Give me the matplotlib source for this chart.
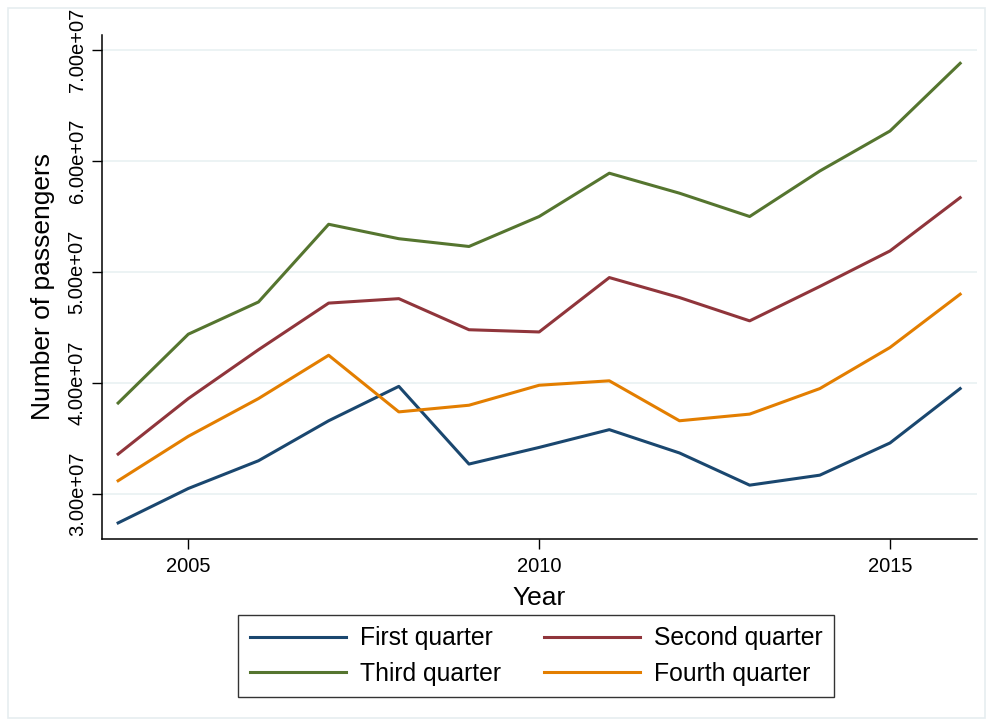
import matplotlib
matplotlib.use("Agg")
import matplotlib.pyplot as plt
from matplotlib.patches import Rectangle
from matplotlib.ticker import FuncFormatter

years = list(range(2004, 2017))
first_q = [2.74e7, 3.05e7, 3.30e7, 3.66e7, 3.97e7, 3.27e7, 3.42e7, 3.58e7, 3.37e7, 3.08e7, 3.17e7, 3.46e7, 3.95e7]
second_q = [3.36e7, 3.86e7, 4.30e7, 4.72e7, 4.76e7, 4.48e7, 4.46e7, 4.95e7, 4.77e7, 4.56e7, 4.87e7, 5.19e7, 5.67e7]
third_q = [3.82e7, 4.44e7, 4.73e7, 5.43e7, 5.30e7, 5.23e7, 5.50e7, 5.89e7, 5.71e7, 5.50e7, 5.91e7, 6.27e7, 6.88e7]
fourth_q = [3.12e7, 3.52e7, 3.86e7, 4.25e7, 3.74e7, 3.80e7, 3.98e7, 4.02e7, 3.66e7, 3.72e7, 3.95e7, 4.32e7, 4.80e7]
labels = ["First quarter", "Second quarter", "Third quarter", "Fourth quarter"]
colors = ["#1a476f", "#90353b", "#55752f", "#e37e00"]
yticks = [3e7, 4e7, 5e7, 6e7, 7e7]
xticks = [2005, 2010, 2015]

plt.rcParams['font.family'] = ['Liberation Sans', 'DejaVu Sans']

W, H = 993, 727
fig = plt.figure(figsize=(W/100, H/100), dpi=100)
fig.patches.append(Rectangle((8/W, 1 - 718/H), (985-8)/W, (718-8)/H, transform=fig.transFigure,
                             fill=False, edgecolor="#e6edf0", linewidth=1.2))
ax = fig.add_axes([102/W, 1 - 539/H, (977-102)/W, (539-35)/H])

handles = []
for s, lab, c in zip([first_q, second_q, third_q, fourth_q], labels, colors):
    h, = ax.plot(years, s, color=c, linewidth=2.2, label=lab)
    handles.append(h)

ax.set_xlim(2003.77, 2016.24)
ax.set_ylim(2.595e7, 7.135e7)
ax.set_xticks(xticks)
ax.set_yticks(yticks)
ax.yaxis.set_major_formatter(FuncFormatter(lambda v, p: "%.2fe+%02d" % (v/1e7, 7)))
for lbl in ax.get_yticklabels():
    lbl.set_rotation(90)
    lbl.set_va("center")
ax.tick_params(axis="both", labelsize=14.5, length=7, width=1, color="black", pad=4)
ax.tick_params(axis="x", pad=6)
ax.grid(axis="y", color="#eaf2f3", linewidth=1.3)
ax.set_axisbelow(True)
for sp in ["top", "right"]:
    ax.spines[sp].set_visible(False)
ax.spines["left"].set_linewidth(1.1)
ax.spines["bottom"].set_linewidth(1.1)
ax.set_xlabel("Year", fontsize=19, labelpad=7)
ax.set_ylabel("Number of passengers", fontsize=19, labelpad=9.5)

order = [0, 2, 1, 3]
leg = fig.legend([handles[i] for i in order], [labels[i] for i in order],
                 loc="center", bbox_to_anchor=(536/W, 1 - 656/H), ncol=2, fontsize=17.8,
                 frameon=True, fancybox=False, edgecolor="black", handlelength=3.9,
                 columnspacing=1.75, handletextpad=0.55, borderpad=0.45, labelspacing=0.45)
leg.get_frame().set_linewidth(1.0)

fig.savefig("out.png", dpi=100, facecolor="white")
